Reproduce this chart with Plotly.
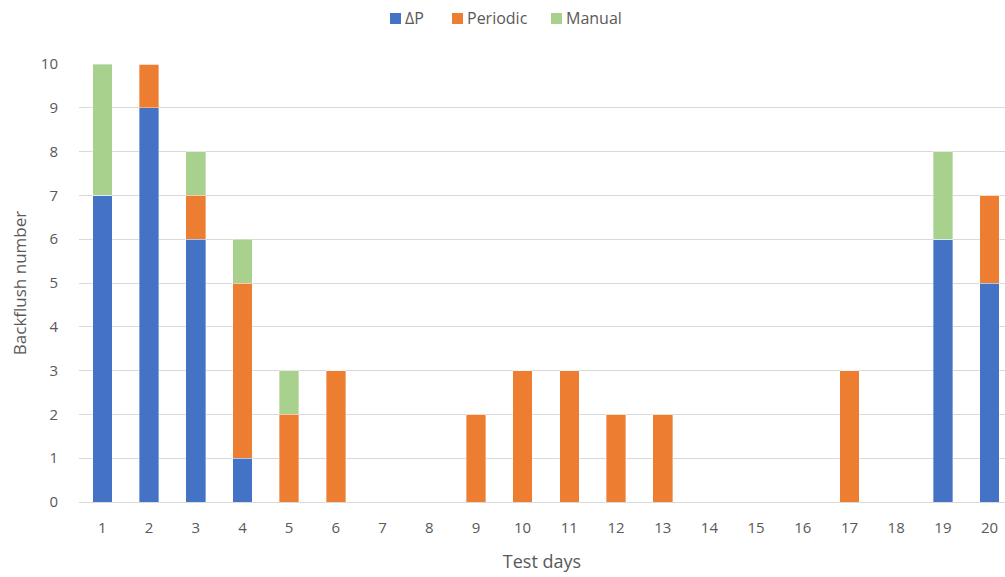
import plotly.graph_objects as go

days = list(range(1, 21))
delta_p = [7, 9, 6, 1, 0, 0, 0, 0, 0, 0, 0, 0, 0, 0, 0, 0, 0, 0, 6, 5]
periodic = [0, 1, 1, 4, 2, 3, 0, 0, 2, 3, 3, 2, 2, 0, 0, 0, 3, 0, 0, 2]
manual = [3, 0, 1, 1, 1, 0, 0, 0, 0, 0, 0, 0, 0, 0, 0, 0, 0, 0, 2, 0]

series = [
    ("ΔP", delta_p, "#4472C4"),
    ("Periodic", periodic, "#ED7D31"),
    ("Manual", manual, "#A9D18E"),
]

font_family = "Open Sans, DejaVu Sans, sans-serif"
grey = "#595959"

W, H = 1005, 577
ML, MR, MT, MB = 79, 0, 64, 75
PW, PH = W - ML - MR, H - MT - MB


def px_x(px):
    return (px - ML) / PW


def px_y(py):
    return (H - MB - py) / PH


fig = go.Figure()
for name, vals, color in series:
    fig.add_trace(go.Bar(
        x=days, y=vals, name=name, width=0.42, showlegend=False,
        marker=dict(color=color, line=dict(width=0.6, color="rgba(255,255,255,0.6)")),
    ))

# compact legend row above the plot: colour key square followed by its label
legend_x = [390, 452, 551]
shapes, annotations = [], []
for (name, _, color), lx in zip(series, legend_x):
    shapes.append(dict(type="rect", xref="paper", yref="paper",
                       x0=px_x(lx), x1=px_x(lx + 11), y0=px_y(24), y1=px_y(13),
                       fillcolor=color, line=dict(width=0)))
    annotations.append(dict(xref="paper", yref="paper", x=px_x(lx + 13), y=px_y(18),
                            xanchor="left", yanchor="middle", showarrow=False,
                            text=name, font=dict(size=16, color=grey)))

fig.update_layout(
    barmode="stack",
    width=W, height=H,
    margin=dict(l=ML, r=MR, t=MT, b=MB),
    plot_bgcolor="white", paper_bgcolor="white",
    font=dict(family=font_family, size=15, color=grey),
    showlegend=False,
    shapes=shapes,
    annotations=annotations,
    xaxis=dict(
        range=[0.5, 20.33], tickmode="array", tickvals=days,
        ticktext=[str(d) for d in days], showgrid=False, zeroline=False,
        showline=False, ticks="", ticklabelstandoff=15,
        tickfont=dict(size=15, color=grey),
        title=dict(text="Test days", font=dict(size=18, color=grey), standoff=19),
    ),
    yaxis=dict(
        range=[0, 10], dtick=1, showgrid=True, gridcolor="#D9D9D9", gridwidth=1,
        zeroline=True, zerolinecolor="#D9D9D9", zerolinewidth=1, showline=False,
        ticks="", ticklabelstandoff=20, tickfont=dict(size=15, color=grey),
        title=dict(text="Backflush number", font=dict(size=17, color=grey), standoff=9),
    ),
)

fig.write_html("out.html")
